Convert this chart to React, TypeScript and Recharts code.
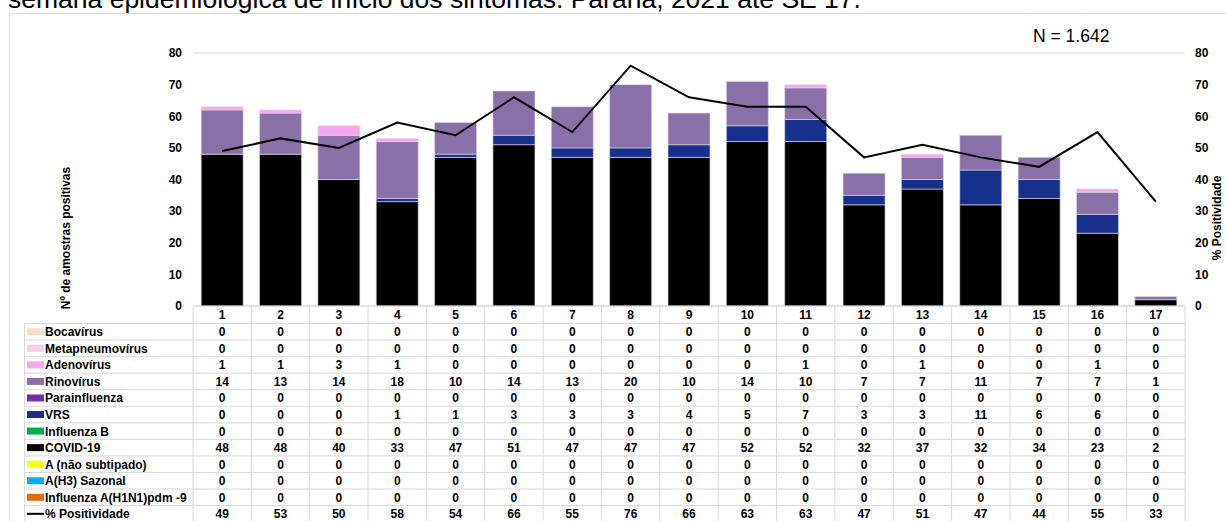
import React from 'react';
import { ComposedChart, Bar, Line, XAxis, YAxis, CartesianGrid } from 'recharts';

const weeks = ['1', '2', '3', '4', '5', '6', '7', '8', '9', '10', '11', '12', '13', '14', '15', '16', '17'];
const bocavirus = [0, 0, 0, 0, 0, 0, 0, 0, 0, 0, 0, 0, 0, 0, 0, 0, 0];
const metapneumovirus = [0, 0, 0, 0, 0, 0, 0, 0, 0, 0, 0, 0, 0, 0, 0, 0, 0];
const adenovirus = [1, 1, 3, 1, 0, 0, 0, 0, 0, 0, 1, 0, 1, 0, 0, 1, 0];
const rinovirus = [14, 13, 14, 18, 10, 14, 13, 20, 10, 14, 10, 7, 7, 11, 7, 7, 1];
const parainfluenza = [0, 0, 0, 0, 0, 0, 0, 0, 0, 0, 0, 0, 0, 0, 0, 0, 0];
const vrs = [0, 0, 0, 1, 1, 3, 3, 3, 4, 5, 7, 3, 3, 11, 6, 6, 0];
const influenzaB = [0, 0, 0, 0, 0, 0, 0, 0, 0, 0, 0, 0, 0, 0, 0, 0, 0];
const covid19 = [48, 48, 40, 33, 47, 51, 47, 47, 47, 52, 52, 32, 37, 32, 34, 23, 2];
const aNaoSubtipado = [0, 0, 0, 0, 0, 0, 0, 0, 0, 0, 0, 0, 0, 0, 0, 0, 0];
const aH3 = [0, 0, 0, 0, 0, 0, 0, 0, 0, 0, 0, 0, 0, 0, 0, 0, 0];
const h1n1 = [0, 0, 0, 0, 0, 0, 0, 0, 0, 0, 0, 0, 0, 0, 0, 0, 0];
const positividade = [49, 53, 50, 58, 54, 66, 55, 76, 66, 63, 63, 47, 51, 47, 44, 55, 33];
const yTicks = [0, 10, 20, 30, 40, 50, 60, 70, 80];

// Table rows, in the order they appear (top first)
const rows = [
  { key: 'boca', label: 'Bocavírus', color: '#FCDCC5', values: bocavirus },
  { key: 'meta', label: 'Metapneumovírus', color: '#F9CCF2', values: metapneumovirus },
  { key: 'adeno', label: 'Adenovírus', color: '#F7A6EC', values: adenovirus },
  { key: 'rino', label: 'Rinovírus', color: '#8A70A8', values: rinovirus },
  { key: 'para', label: 'Parainfluenza', color: '#7030A0', values: parainfluenza },
  { key: 'vrs', label: 'VRS', color: '#17308C', values: vrs },
  { key: 'flub', label: 'Influenza B', color: '#00B050', values: influenzaB },
  { key: 'covid', label: 'COVID-19', color: '#000000', values: covid19 },
  { key: 'anao', label: 'A (não subtipado)', color: '#FFFF00', values: aNaoSubtipado },
  { key: 'h3', label: 'A(H3) Sazonal', color: '#00B0F0', values: aH3 },
  { key: 'h1n1', label: 'Influenza A(H1N1)pdm -9', color: '#E46C0A', values: h1n1 },
];
const lineRow = { key: 'pos', label: '% Positividade', values: positividade };

const data = weeks.map((w, i) => {
  const d: any = { week: w, pos: positividade[i] };
  rows.forEach((r) => { d[r.key] = r.values[i]; });
  return d;
});

const stackOrder = [...rows].reverse();

const FONT = "Arial, 'Liberation Sans', sans-serif";
const FS = 12;
const PLOT_L = 193;
const PLOT_R = 1185;
const PLOT_T = 53;
const PLOT_B = 306;
const STEP = (PLOT_R - PLOT_L) / weeks.length;
const HEADER_H = 17.5;
const ROW_H = 16.55;
const GRID = '#d9d9d9';

const allRows = [...rows, lineRow];

const TableTick = (props: any) => {
  const { x, y, payload } = props;
  const i = payload.index;
  const bottom = y + HEADER_H + ROW_H * allRows.length + 5;
  return (
    <g>
      <line x1={x - STEP / 2} x2={x - STEP / 2} y1={y} y2={bottom} stroke={GRID} />
      {i === weeks.length - 1 && (
        <line x1={x + STEP / 2} x2={x + STEP / 2} y1={y} y2={bottom} stroke={GRID} />
      )}
      <text x={x} y={y + HEADER_H / 2 + 4.5} textAnchor="middle" fontSize={FS} fontWeight="bold" fill="#000" fontFamily={FONT}>
        {payload.value}
      </text>
      {allRows.map((r, k) => (
        <text key={r.key} x={x} y={y + HEADER_H + ROW_H * k + ROW_H / 2 + 4.5} textAnchor="middle" fontSize={FS} fontWeight="bold" fill="#000" fontFamily={FONT}>
          {r.values[i]}
        </text>
      ))}
    </g>
  );
};

export default function App() {
  const tableTop = PLOT_B + HEADER_H;
  return (
    <div style={{ position: 'absolute', left: 0, top: 0, width: 1226, height: 521, overflow: 'hidden', background: '#fff' }}>
      <svg width={1226} height={521} style={{ position: 'absolute', left: 0, top: 0 }}>
        <text x={8} y={7.5} fontSize={26.5} fill="#000" fontFamily={FONT}>
          semana epidemiológica de início dos sintomas. Paraná, 2021 até SE 17.
        </text>
        <line x1={9.5} x2={1226} y1={13.5} y2={13.5} stroke={GRID} />
        <line x1={9.5} x2={9.5} y1={13.5} y2={521} stroke={GRID} />
        <text x={1033} y={42} fontSize={17.5} fill="#000" fontFamily={FONT}>N = 1.642</text>
        <text transform="translate(70,238) rotate(-90)" textAnchor="middle" fontSize={FS} fontWeight="bold" fill="#000" fontFamily={FONT}>
          Nº de amostras positivas
        </text>
        <text transform="translate(1221,218) rotate(-90)" textAnchor="middle" fontSize={FS} fontWeight="bold" fill="#000" fontFamily={FONT}>
          % Positividade
        </text>
        {/* table label column */}
        <line x1={24.5} x2={24.5} y1={tableTop} y2={521} stroke={GRID} />
        {allRows.map((r, k) => {
          const top = tableTop + ROW_H * k;
          const cy = top + ROW_H / 2;
          return (
            <g key={r.key}>
              <line x1={24.5} x2={PLOT_R} y1={top} y2={top} stroke={GRID} />
              {r.key === 'pos' ? (
                <line x1={27} x2={44} y1={cy} y2={cy} stroke="#000" strokeWidth={2} />
              ) : (
                <rect x={27} y={cy - 3.5} width={17} height={7} fill={(r as any).color} />
              )}
              <text x={45} y={cy + 4.5} fontSize={FS} fontWeight="bold" fill="#000" fontFamily={FONT}>
                {r.label}
              </text>
            </g>
          );
        })}
      </svg>
      <div style={{ position: 'absolute', left: 0, top: 0 }}>
        <ComposedChart
          width={1226}
          height={521}
          data={data}
          margin={{ top: PLOT_T, right: 1226 - PLOT_R - 40, left: PLOT_L - 40, bottom: 5 }}
          barCategoryGap="14%"
        >
          <CartesianGrid vertical={false} stroke={GRID} />
          <XAxis
            dataKey="week"
            interval={0}
            tickLine={false}
            tickSize={0}
            tickMargin={0}
            axisLine={{ stroke: GRID }}
            height={521 - PLOT_B - 5}
            tick={<TableTick />}
          />
          <YAxis
            yAxisId="left"
            orientation="left"
            width={40}
            domain={[0, 80]}
            ticks={yTicks}
            interval={0}
            axisLine={false}
            tickLine={false}
            tickSize={0}
            tickMargin={11}
            tick={{ fontSize: FS, fontWeight: 'bold', fill: '#000', fontFamily: FONT }}
          />
          <YAxis
            yAxisId="right"
            orientation="right"
            width={40}
            domain={[0, 80]}
            ticks={yTicks}
            interval={0}
            axisLine={false}
            tickLine={false}
            tickSize={0}
            tickMargin={10}
            tick={{ fontSize: FS, fontWeight: 'bold', fill: '#000', fontFamily: FONT, textAnchor: 'start' }}
          />
          {stackOrder.map((r) => (
            <Bar
              key={r.key}
              dataKey={r.key}
              yAxisId="left"
              stackId="a"
              fill={r.color}
              stroke="#e0dce6"
              strokeWidth={0.6}
              isAnimationActive={false}
            />
          ))}
          <Line
            dataKey="pos"
            yAxisId="right"
            type="linear"
            stroke="#000"
            strokeWidth={2}
            dot={false}
            activeDot={false}
            isAnimationActive={false}
          />
        </ComposedChart>
      </div>
    </div>
  );
}
